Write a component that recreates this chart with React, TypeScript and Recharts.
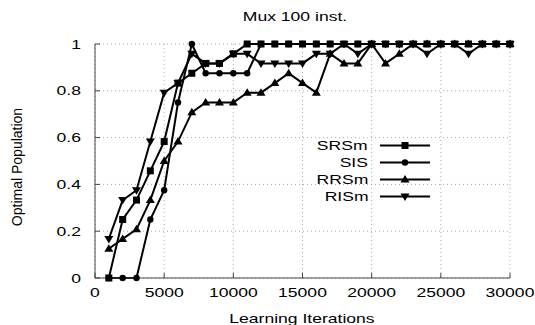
import React from 'react';
import { LineChart, Line, XAxis, YAxis, CartesianGrid, Legend } from 'recharts';

const iterations = [
    1000, 2000, 3000, 4000, 5000, 6000, 7000, 8000, 9000, 10000,
    11000, 12000, 13000, 14000, 15000, 16000, 17000, 18000, 19000, 20000,
    21000, 22000, 23000, 24000, 25000, 26000, 27000, 28000, 29000, 30000,
];

const srsm = [
    0, 0.25, 0.333, 0.458, 0.583, 0.833, 0.875, 0.917, 0.917, 0.958,
    1, 1, 1, 1, 1, 1, 1, 1, 1, 1,
    1, 1, 1, 1, 1, 1, 1, 1, 1, 1,
];
const sis = [
    0, 0, 0, 0.25, 0.375, 0.75, 1, 0.875, 0.875, 0.875,
    0.875, 1, 1, 1, 1, 1, 1, 1, 1, 1,
    1, 1, 1, 1, 1, 1, 1, 1, 1, 1,
];
const rrsm = [
    0.125, 0.167, 0.208, 0.333, 0.5, 0.583, 0.708, 0.75, 0.75, 0.75,
    0.792, 0.792, 0.833, 0.875, 0.833, 0.792, 0.958, 0.917, 0.917, 1,
    0.917, 0.958, 1, 1, 1, 1, 1, 1, 1, 1,
];
const rism = [
    0.167, 0.333, 0.375, 0.583, 0.792, 0.833, 0.958, 0.917, 0.917, 0.958,
    0.958, 0.917, 0.917, 0.917, 0.917, 0.958, 0.958, 1, 0.958, 1,
    1, 1, 1, 0.958, 1, 1, 0.958, 1, 1, 1,
];

const seriesNames = ['SRSm', 'SIS', 'RRSm', 'RISm'];
const xTicks = [0, 5000, 10000, 15000, 20000, 25000, 30000];
const yTicks = [0, 0.2, 0.4, 0.6, 0.8, 1];

const data = iterations.map((it, i) => ({
    it,
    SRSm: srsm[i],
    SIS: sis[i],
    RRSm: rrsm[i],
    RISm: rism[i],
}));

const FONT = '"Liberation Sans", Arial, sans-serif';
const STRETCH = 1.35;

function Marker({ shape, cx, cy }: { shape: string; cx: number; cy: number }) {
    if (shape === 'SRSm') return <rect x={cx - 3.5} y={cy - 3.5} width={7} height={7} fill="#000" />;
    if (shape === 'SIS') return <circle cx={cx} cy={cy} r={3.2} fill="#000" />;
    if (shape === 'RRSm') return <polygon points={`${cx},${cy - 4.5} ${cx - 4.5},${cy + 3} ${cx + 4.5},${cy + 3}`} fill="#000" />;
    return <polygon points={`${cx},${cy + 4.5} ${cx - 4.5},${cy - 3} ${cx + 4.5},${cy - 3}`} fill="#000" />;
}

const makeDot = (shape: string) => (props: any) => {
    const { cx, cy, index } = props;
    if (cx == null || cy == null) return <g key={index} />;
    return <Marker key={`${shape}-${index}`} shape={shape} cx={cx} cy={cy} />;
};

const YTick = ({ x, y, payload }: any) => (
    <g transform={`translate(${x},${y})`}>
        <text transform={`scale(${STRETCH},1)`} textAnchor="end" dy="0.36em" fontSize={13} fontFamily={FONT} fill="#000">
            {String(payload.value)}
        </text>
    </g>
);

const XTick = ({ x, y, payload }: any) => (
    <g transform={`translate(${x},${y})`}>
        <text transform={`scale(${STRETCH},1)`} textAnchor="middle" dy="0.71em" fontSize={13} fontFamily={FONT} fill="#000">
            {String(payload.value)}
        </text>
    </g>
);

const NoTick = () => <g />;

const LegendBox = () => (
    <div style={{ fontFamily: FONT, fontSize: 13 }}>
        {seriesNames.map((name) => (
            <div key={name} style={{ display: 'flex', alignItems: 'center', height: 17 }}>
                <span style={{ width: 78, textAlign: 'right', display: 'inline-block' }}>
                    <span style={{ display: 'inline-block', transform: `scaleX(${STRETCH})`, transformOrigin: 'right center' }}>{name}</span>
                </span>
                <svg width={60} height={17} style={{ marginLeft: 12 }}>
                    <line x1={0} y1={8.5} x2={50} y2={8.5} stroke="#000" strokeWidth={2} />
                    <Marker shape={name} cx={25} cy={8.5} />
                </svg>
            </div>
        ))}
    </div>
);

export default function App() {
    return (
        <div style={{ position: 'absolute', left: 0, top: 0, width: 535, height: 325, background: '#fff', overflow: 'hidden' }}>
            <svg width={535} height={325} style={{ position: 'absolute', left: 0, top: 0 }}>
                <text x={295} y={21} textAnchor="middle" fontSize={13} fontFamily={FONT} transform={`translate(295,0) scale(${STRETCH},1) translate(-295,0)`}>
                    Mux 100 inst.
                </text>
                <text x={302} y={323} textAnchor="middle" fontSize={13} fontFamily={FONT} transform={`translate(302,0) scale(${STRETCH},1) translate(-302,0)`}>
                    Learning Iterations
                </text>
                <text x={22} y={167} textAnchor="middle" fontSize={14} fontFamily={FONT} transform="rotate(-90, 22, 167)">
                    Optimal Population
                </text>
            </svg>
            <div style={{ position: 'absolute', left: 0, top: 0 }}>
                <LineChart width={535} height={325} data={data} margin={{ top: 44, right: 25, bottom: 0, left: 35 }}>
                    <CartesianGrid stroke="#aaa" strokeDasharray="1 3" />
                    <XAxis
                        dataKey="it"
                        type="number"
                        domain={[0, 30000]}
                        ticks={xTicks}
                        height={47}
                        tick={<XTick />}
                        tickSize={-5}
                        tickMargin={15}
                        stroke="#444"
                        interval={0}
                    />
                    <XAxis
                        xAxisId="top"
                        dataKey="it"
                        type="number"
                        orientation="top"
                        domain={[0, 30000]}
                        ticks={xTicks}
                        height={0}
                        tick={<NoTick />}
                        tickSize={-5}
                        stroke="#444"
                    />
                    <YAxis
                        type="number"
                        domain={[0, 1]}
                        ticks={yTicks}
                        width={60}
                        tick={<YTick />}
                        tickSize={-5}
                        tickMargin={19}
                        stroke="#444"
                        interval={0}
                    />
                    <YAxis
                        yAxisId="right"
                        type="number"
                        orientation="right"
                        domain={[0, 1]}
                        ticks={yTicks}
                        width={0}
                        tick={<NoTick />}
                        tickSize={-5}
                        stroke="#444"
                    />
                    <Legend
                        layout="horizontal"
                        align="center"
                        verticalAlign="middle"
                        content={<LegendBox />}
                        wrapperStyle={{ position: 'absolute', left: 290, top: 137, width: 160 }}
                    />
                    {seriesNames.map((name) => (
                        <Line
                            key={name}
                            dataKey={name}
                            type="linear"
                            stroke="#000"
                            strokeWidth={2}
                            dot={makeDot(name)}
                            activeDot={false}
                            isAnimationActive={false}
                        />
                    ))}
                </LineChart>
            </div>
        </div>
    );
}
